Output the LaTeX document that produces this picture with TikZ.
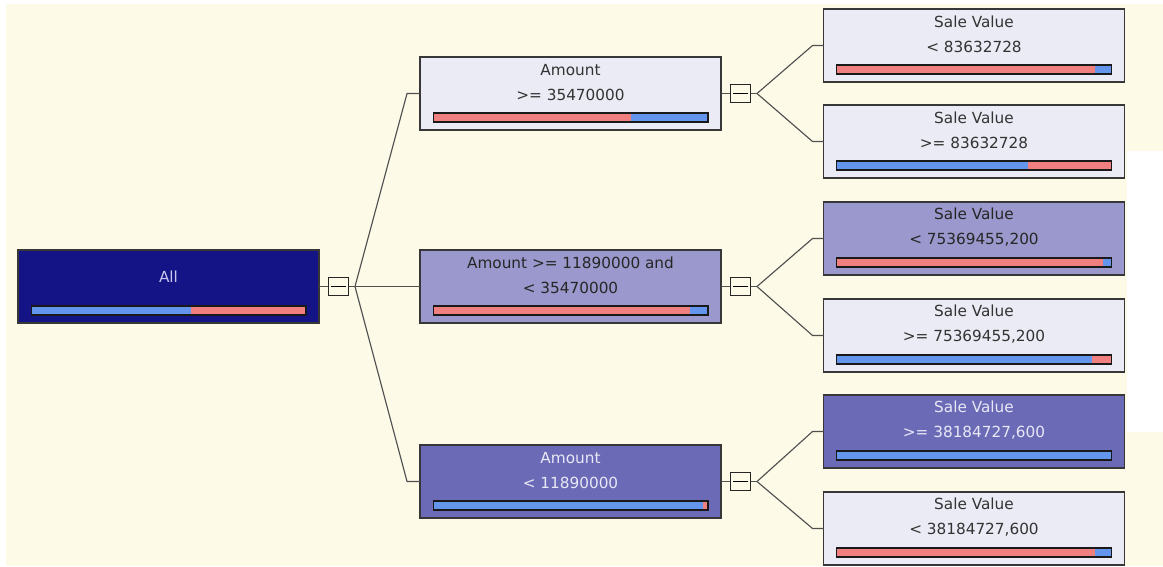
\documentclass[tikz,border=0pt]{standalone}
\usepackage{fontspec}
\setmainfont{DejaVu Sans}
\usetikzlibrary{calc, positioning}

\definecolor{cream}{RGB}{253,250,232}
\definecolor{lightfill}{RGB}{235,235,245}
\definecolor{midfill}{RGB}{154,152,204}
\definecolor{darkfill}{RGB}{107,106,182}
\definecolor{rootfill}{RGB}{20,20,135}
\definecolor{barred}{RGB}{240,128,128}
\definecolor{barblue}{RGB}{100,149,237}
\definecolor{edgegray}{RGB}{55,55,55}
\definecolor{linkgray}{RGB}{80,80,80}

\begin{document}
\begin{tikzpicture}[x=0.02cm, y=-0.02cm, font={\fontsize{8.7}{14.2}\selectfont},
	box/.style={draw=edgegray, line width=0.7pt, minimum width=6.02cm, minimum height=1.46cm, inner sep=0pt, outer sep=0pt},
	txt/.style={align=center, inner sep=0pt, text=black!80},
	collapse/.style={draw=black!85, fill=cream, line width=0.6pt, minimum width=0.4cm, minimum height=0.36cm, inner sep=0pt},
	link/.style={draw=linkgray, line width=0.65pt},
	barline/.style={draw=black!90, line width=0.6pt}]
	\useasboundingbox (0,0) rectangle (1163,566);
	\fill[cream] (6,4) rectangle (1163,566);
	\fill[white] (1127,151) rectangle (1163,432);
	
	% Root
	\node[box, fill=rootfill] (root) at (168.5,286.5) {};
	\node[txt, text={rgb,255:red,200;green,200;blue,238}] at ($(root)+(0,-9.5)$) {All};
	
	% Amount splits
	\node[box, fill=lightfill] (amtHigh) at (570.5,93.5) {};
	\node[txt] at ($(amtHigh)+(0,-11)$) {Amount\\>= 35470000};
	\node[box, fill=midfill] (amtMid) at (570.5,286.5) {};
	\node[txt, text=black!85] at ($(amtMid)+(0,-11)$) {Amount >= 11890000 and\\< 35470000};
	\node[box, fill=darkfill] (amtLow) at (570.5,481.5) {};
	\node[txt, text={rgb,255:red,232;green,232;blue,246}] at ($(amtLow)+(0,-11)$) {Amount\\< 11890000};
	
	% Sale Value splits
	\node[box, fill=lightfill] (sv1) at (974,45.5) {};
	\node[txt] at ($(sv1)+(0,-11)$) {Sale Value\\< 83632728};
	\node[box, fill=lightfill] (sv2) at (974,141.5) {};
	\node[txt] at ($(sv2)+(0,-11)$) {Sale Value\\>= 83632728};
	\node[box, fill=midfill] (sv3) at (974,238.5) {};
	\node[txt, text=black!85] at ($(sv3)+(0,-11)$) {Sale Value\\< 75369455,200};
	\node[box, fill=lightfill] (sv4) at (974,335.5) {};
	\node[txt] at ($(sv4)+(0,-11)$) {Sale Value\\>= 75369455,200};
	\node[box, fill=darkfill] (sv5) at (974,431.5) {};
	\node[txt, text={rgb,255:red,232;green,232;blue,246}] at ($(sv5)+(0,-11)$) {Sale Value\\>= 38184727,600};
	\node[box, fill=lightfill] (sv6) at (974,528.5) {};
	\node[txt] at ($(sv6)+(0,-11)$) {Sale Value\\< 38184727,600};
	
	% Distribution bars
	\foreach \n/\ca/\f/\cb in {root/barblue/0.58/barred, amtHigh/barred/0.72/barblue,
		amtMid/barred/0.935/barblue, amtLow/barblue/0.98/barred, sv1/barred/0.94/barblue,
		sv2/barblue/0.695/barred, sv3/barred/0.97/barblue, sv4/barblue/0.93/barred,
		sv5/barblue/1/barred, sv6/barred/0.94/barblue}{
		\fill[\ca] ($(\n.west)+(13,19.5)$) rectangle ($(\n.west)+(13+275*\f,28.5)$);
		\fill[\cb] ($(\n.west)+(13+275*\f,19.5)$) rectangle ($(\n.east)+(-13,28.5)$);
		\draw[barline] ($(\n.west)+(13,19.5)$) rectangle ($(\n.east)+(-13,28.5)$);
	}
	
	% Collapse buttons
	\node[collapse] (col0) at (338.5,286.5) {};
	\node[collapse] (colA) at (740.5,93.5) {};
	\node[collapse] (colB) at (740.5,286.5) {};
	\node[collapse] (colC) at (740.5,481.5) {};
	\coordinate (br0) at (355,286.5);
	\coordinate (brA) at (757,93.5);
	\coordinate (brB) at (757,286.5);
	\coordinate (brC) at (757,481.5);
	\foreach \c in {col0, colA, colB, colC}
		\draw[line width=0.6pt] ($(\c.west)+(3,0)$) -- ($(\c.east)+(-3,0)$);
	
	% Connectors
	\draw[link] (root) -- (col0);
	\draw[link] (col0) -- (br0);
	\draw[link] (br0) -- ($(amtHigh.west)+(-13,0)$) -- (amtHigh.west);
	\draw[link] (br0) -- (amtMid);
	\draw[link] (br0) -- ($(amtLow.west)+(-13,0)$) -- (amtLow.west);
	
	\draw[link] (amtHigh) -- (colA);
	\draw[link] (colA) -- (brA);
	\draw[link] (brA) -- ($(sv1.west)+(-11,0)$) -- (sv1.west);
	\draw[link] (brA) -- ($(sv2.west)+(-11,0)$) -- (sv2.west);
	
	\draw[link] (amtMid) -- (colB);
	\draw[link] (colB) -- (brB);
	\draw[link] (brB) -- ($(sv3.west)+(-11,0)$) -- (sv3.west);
	\draw[link] (brB) -- ($(sv4.west)+(-11,0)$) -- (sv4.west);
	
	\draw[link] (amtLow) -- (colC);
	\draw[link] (colC) -- (brC);
	\draw[link] (brC) -- ($(sv5.west)+(-11,0)$) -- (sv5.west);
	\draw[link] (brC) -- ($(sv6.west)+(-11,0)$) -- (sv6.west);
\end{tikzpicture}
\end{document}
